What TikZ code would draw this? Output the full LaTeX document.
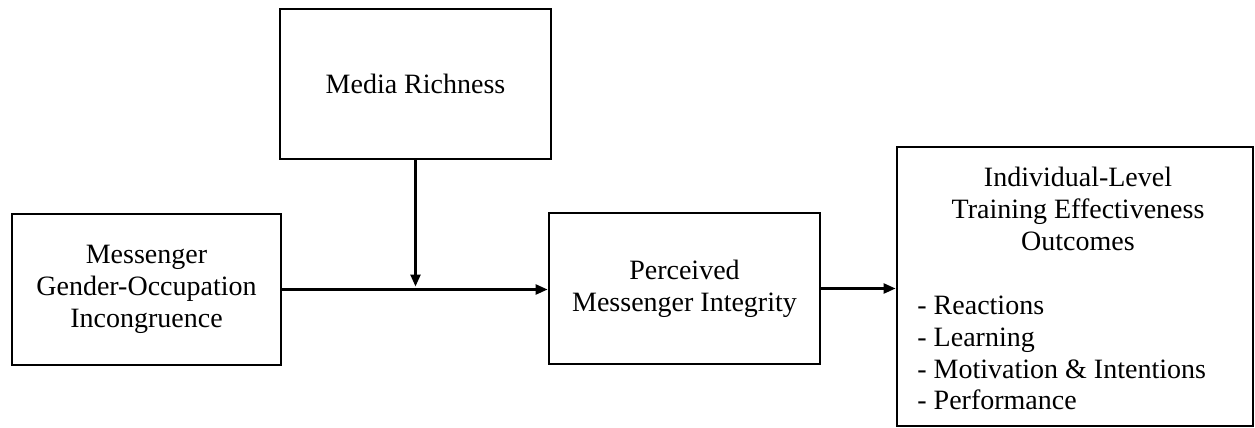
\documentclass[tikz,border=0pt]{standalone}
\usepackage{fontspec}
\setmainfont{Liberation Serif}
\usetikzlibrary{arrows.meta}

\tikzset{
  label/.style={inner sep=0pt, font=\fontsize{14}{15.9}\selectfont},
  box/.style={label, draw, line width=1.4pt, align=center},
  link/.style={line width=1.2pt, -{Triangle[length=6pt,width=5pt]}}
}

\begin{document}
\begin{tikzpicture}[x=0.5pt,y=-0.5pt]
  \useasboundingbox (0,0) rectangle (1255,428);

  % boxes
  \node[box, minimum width=134.5pt, minimum height=75.5pt] (incong) at (146.5,289.5)
    {Messenger\\Gender-Occupation\\Incongruence};
  \node[box, minimum width=135.5pt, minimum height=75pt] (media) at (415.5,84)
    {Media Richness};
  \node[box, minimum width=135.5pt, minimum height=75.5pt] (integ) at (684.5,288.5)
    {Perceived\\Messenger Integrity};
  \node[box, minimum width=178pt, minimum height=139.5pt] (outcomes) at (1075,286.5) {};

  % text of the outcome box
  \node[label, align=center] (outtitle) at (1078,209)
    {Individual-Level\\Training Effectiveness\\Outcomes};
  \node[label, align=left, anchor=west] (outlist) at (917,353)
    {- Reactions\\- Learning\\- Motivation \& Intentions\\- Performance};

  % arrows
  \coordinate (join) at (media.south |- incong.east);
  \draw[link] (incong.east) -- (incong.east -| integ.west);
  \draw[link, shorten >=1.5pt] (media.south) -- (join);
  \draw[link] (integ.east) -- (integ.east -| outcomes.west);
\end{tikzpicture}
\end{document}
